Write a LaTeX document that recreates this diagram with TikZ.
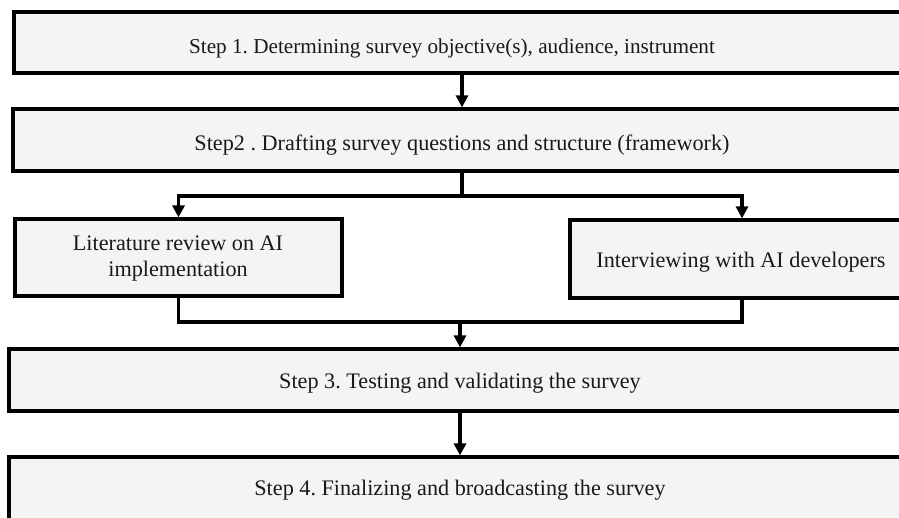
\documentclass[tikz,border=0pt]{standalone}
\usepackage{fontspec}
\setmainfont{Liberation Serif}
\frenchspacing
\usetikzlibrary{arrows.meta,fit}
\definecolor{boxfill}{HTML}{F3F4F4}
\tikzset{
  box/.style={draw=black, line width=3.2pt, fill=boxfill, inner sep=0pt, rectangle},
  lbl/.style={font=\fontsize{22.2}{26}\selectfont, inner sep=0pt, text=black!90},
  conn/.style={line width=3.2pt, line cap=rect},
  arr/.style={line width=3.2pt, -{Triangle[length=12pt,width=12pt]}}
}
\begin{document}
\begin{tikzpicture}[x=1pt,y=-1pt]
\useasboundingbox (0,0) rectangle (899,517);
\clip (0,0) rectangle (899,517);
\node[box, fit={(14,12) (920,73)}] (s1) {};
\node[box, fit={(13,109) (920,171)}] (s2) {};
\node[box, fit={(15,219) (342,296)}] (lit) {};
\node[box, fit={(570,220) (914,298)}] (int) {};
\node[box, fit={(9,349) (920,411)}] (s3) {};
\node[box, fit={(9,457) (920,560)}] (s4) {};

\node[lbl, anchor=base, font=\fontsize{21.2}{25}\selectfont] (t1) at (452,53) {Step 1. Determining survey objective(s), audience, instrument};
\node[lbl, anchor=base] (t2) at (462,150) {Step2 . Drafting survey questions and structure (framework)};
\node[lbl, anchor=center, align=center] (tl) at (178,259) {Literature review on AI\\implementation};
\node[lbl, anchor=base] (ti) at (741,267) {Interviewing with AI developers};
\node[lbl, anchor=base] (t3) at (460,388) {Step 3. Testing and validating the survey};
\node[lbl, anchor=base] (t4) at (460,495) {Step 4. Finalizing and broadcasting the survey};

\coordinate (mid) at (462,0);
\coordinate (split) at (462,196);
\coordinate (merge) at (460,322);
\draw[arr] (mid |- s1.south) -- (mid |- s2.north);
\draw[conn] (mid |- s2.south) -- (split);
\draw[arr] (split) -| (lit.north);
\draw[arr] (split) -| (int.north);
\draw[conn] (lit.south) |- (merge) -| (int.south);
\draw[arr] (merge) -- (merge |- s3.north);
\draw[arr] (merge |- s3.south) -- (merge |- s4.north);
\end{tikzpicture}
\end{document}
